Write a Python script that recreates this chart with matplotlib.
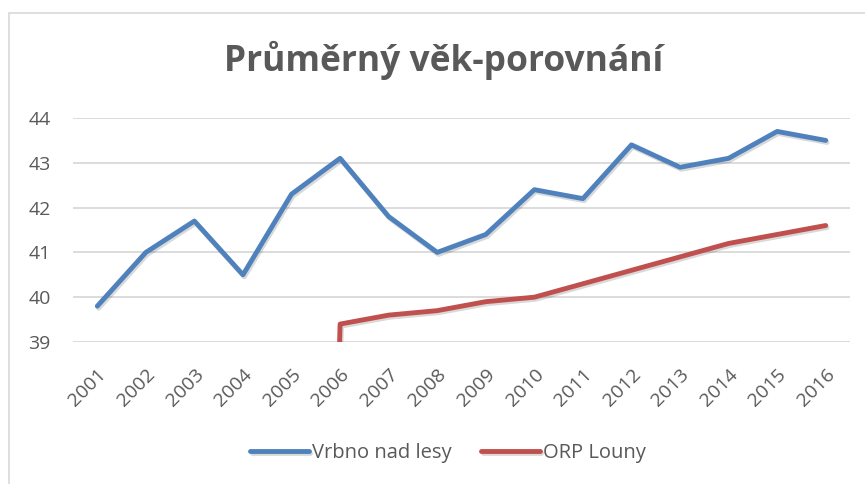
import matplotlib.pyplot as plt
from matplotlib.patches import Rectangle
import matplotlib.patheffects as pe

years = ["2001", "2002", "2003", "2004", "2005", "2006", "2007", "2008",
         "2009", "2010", "2011", "2012", "2013", "2014", "2015", "2016"]
vrbno = [39.8, 41.0, 41.7, 40.5, 42.3, 43.1, 41.8, 41.0,
         41.4, 42.4, 42.2, 43.4, 42.9, 43.1, 43.7, 43.5]
# ORP Louny has no values before 2006 (drawn as 0 in the original)
louny = [0, 0, 0, 0, 0, 39.4, 39.6, 39.7,
         39.9, 40.0, 40.3, 40.6, 40.9, 41.2, 41.4, 41.6]

plt.rcParams['font.family'] = ['Open Sans', 'DejaVu Sans']
txt = '#595959'

fig = plt.figure(figsize=(8.65, 4.84), dpi=100)
fig.patches.append(Rectangle((9 / 865, -0.1), 1.1, 1 - 13 / 484 + 0.1,
                             transform=fig.transFigure, fill=False,
                             edgecolor='#D9D9D9', linewidth=1.2))

ax = fig.add_axes([73 / 865, 1 - 342 / 484, 777 / 865, 224 / 484])
x = list(range(len(years)))
shadow = [pe.SimpleLineShadow(offset=(1, -1.5), alpha=0.15), pe.Normal()]
ax.plot(x, vrbno, color='#4F81BD', lw=3.5, solid_capstyle='round',
        solid_joinstyle='round', label='Vrbno nad lesy', path_effects=shadow)
ax.plot(x, louny, color='#C0504D', lw=3.5, solid_capstyle='round',
        solid_joinstyle='round', label='ORP Louny', path_effects=shadow)

ax.set_xlim(-0.5, len(years) - 0.5)
ax.set_ylim(39, 44)
ax.set_yticks([39, 40, 41, 42, 43, 44])
ax.set_xticks(x)
ax.set_xticklabels(years, rotation=45, ha='right', rotation_mode='anchor')
ax.tick_params(axis='both', length=0, labelsize=14, labelcolor=txt)
ax.tick_params(axis='x', pad=17)
ax.tick_params(axis='y', pad=16)
ax.grid(axis='y', color='#D9D9D9', linewidth=1.3)
ax.set_axisbelow(True)
for s in ax.spines.values():
    s.set_visible(False)

fig.text(444 / 865, 1 - 60 / 484, 'Průměrný věk-porovnání', ha='center',
         va='center', fontsize=25.5, fontweight='bold', color=txt)

fig.legend(loc='center', bbox_to_anchor=(448 / 865, 1 - 453 / 484), ncol=2,
           frameon=False, fontsize=14.5, labelcolor=txt, handlelength=2.9,
           handletextpad=0.15, columnspacing=1.5)

fig.savefig('out.png', dpi=100)
